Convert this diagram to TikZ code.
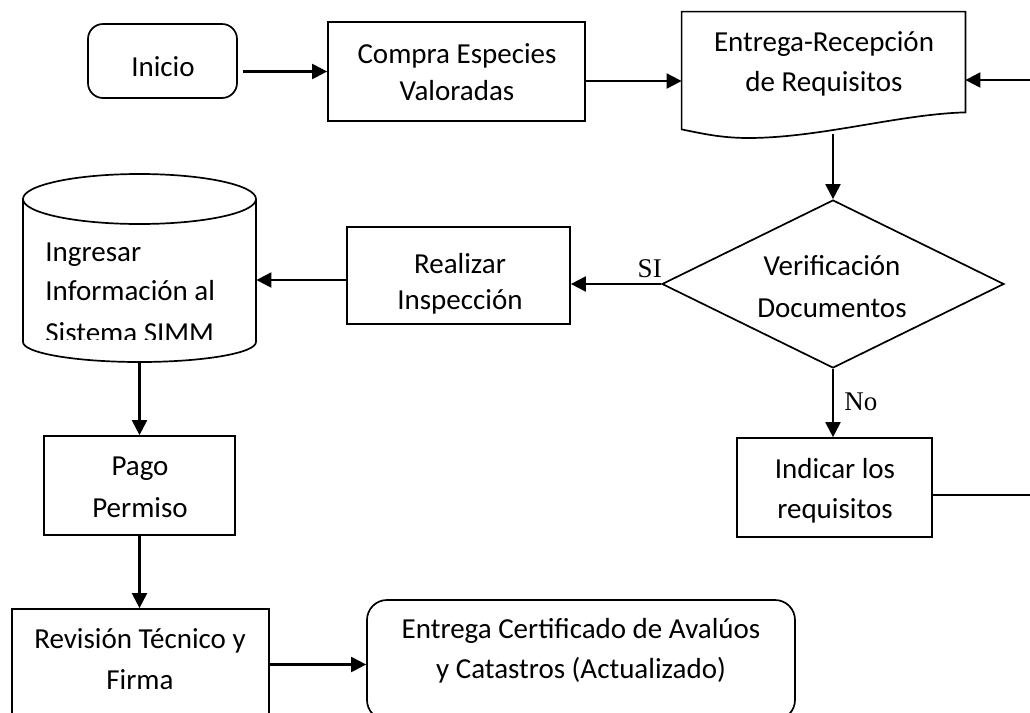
\documentclass[tikz,border=0pt]{standalone}
\usepackage{fontspec}
\setmainfont{Carlito}
\newfontfamily\labelfont{Liberation Serif}
\usetikzlibrary{arrows.meta,shapes.geometric,calc}

\tikzset{
  boxline/.style={draw=black, line width=0.85pt},
  procbox/.style={boxline, rectangle, inner sep=0pt},
  termbox/.style={boxline, rectangle, rounded corners=#1, inner sep=0pt},
  hidden/.style={rectangle, inner sep=0pt},
  decision/.style={boxline, diamond, inner sep=0pt},
  txt/.style={inner sep=0pt, anchor=base, align=center,
    font=\fontsize{14.5}{20}\selectfont},
  txtl/.style={inner sep=0pt, anchor=base west,
    font=\fontsize{14.5}{20}\selectfont},
  branch/.style={inner sep=0pt, font=\labelfont\fontsize{13.5}{16}\selectfont},
  arr/.style={draw=black, line width=1.05pt, -{Triangle[length=7.5pt,width=7.5pt]}},
  link/.style={draw=black, line width=0.85pt},
}

\begin{document}
\begin{tikzpicture}[x=0.5pt,y=-0.5pt]
\fill[white] (0,0) rectangle (1030,713);
\useasboundingbox (0,0) rectangle (1030,713);

% ---------- shapes ----------
\node[termbox=7.5pt, minimum width=74.5pt, minimum height=37pt] (inicio) at (162.5,61) {};
\node[procbox, minimum width=128.5pt, minimum height=49.5pt] (compra) at (456.5,71.5) {};

% document shape with wavy bottom edge
\node[hidden, minimum width=141.5pt, minimum height=50pt] (ent) at (823.5,62) {};
\draw[boxline] (ent.north west) -- (ent.north east) -- (ent.south east)
  .. controls (900,114) and (820,138) .. (748,138)
  .. controls (720,138) and (700,133) .. ($(ent.south west)+(0,17)$) -- cycle;

\node[decision, minimum width=171pt, minimum height=84pt] (dia) at (833,284) {};
\node[procbox, minimum width=111.5pt, minimum height=48.5pt] (real) at (458.5,275.5) {};

% database cylinder
\node[hidden, minimum width=116.5pt, minimum height=94.5pt] (cyl) at (139.5,267.5) {};
\draw[boxline] (139.5,199) ellipse [x radius=58.25pt, y radius=12.5pt];
\draw[boxline] (23,199) -- (23,342)
  .. controls (23,353) and (75.2,362) .. (139.5,362)
  .. controls (203.8,362) and (256,353) .. (256,342) -- (256,199);

\node[procbox, minimum width=97.5pt, minimum height=49.5pt] (ind) at (834.5,487.5) {};
\node[procbox, minimum width=95.5pt, minimum height=49.5pt] (pago) at (139.5,485.5) {};
\node[procbox, minimum width=128.5pt, minimum height=55.5pt] (rev) at (140.5,664.5) {};
\node[termbox=10pt, minimum width=214pt, minimum height=60pt] (cert) at (581,660) {};

% ---------- texts (anchored at the baseline of the last line) ----------
\node[txt] (inicioT) at (163,76) {Inicio};
\node[txt, font=\fontsize{14.5}{18.5}\selectfont] (compraT) at (457,100) {Compra Especies\\Valoradas};
\node[txt] (entT) at (824,91) {Entrega-Recepción\\de Requisitos};
\node[txt, font=\fontsize{14.5}{18}\selectfont] (realT) at (460,309) {Realizar\\Inspección};
\node[txt, font=\fontsize{14.5}{21}\selectfont] (diaT) at (832,317) {Verificación\\Documentos};
\node[txt] (indT) at (835,518) {Indicar los\\requisitos};
\node[txt, font=\fontsize{14.5}{21}\selectfont] (pagoT) at (140,517) {Pago\\Permiso};
\node[txt, font=\fontsize{14.5}{20.5}\selectfont] (revT) at (140,689) {Revisión Técnico y\\Firma};
\node[txt] (certT) at (581,678) {Entrega Certificado de Avalúos\\y Catastros (Actualizado)};

\node[txtl] (cylT1) at (45,261) {Ingresar};
\node[txtl] (cylT2) at (45,300) {Información al};
\begin{scope}
  \clip (0,0) rectangle (1030,339);
  \node[txtl] (cylT3) at (45,342) {Sistema SIMM};
\end{scope}

% ---------- connectors ----------
\draw[arr] ($(inicio.east |- compra.west)+(5,0)$) -- (compra.west);

\coordinate (entIn) at ($(ent.west)+(0,19)$);
\draw[arr] (compra.east |- entIn) -- (entIn);

\coordinate (retTop) at (1030,80);
\draw[arr] (retTop) -- (retTop -| ent.east);

\coordinate (entOut) at (833,134);
\draw[arr] (entOut) -- (dia.north);

\draw[arr] (dia.west) -- (dia.west -| real.east);
\node[branch, anchor=base east] (si) at ($(dia.west)+(1,-7)$) {SI};

\draw[arr] (dia.south) -- (dia.south |- ind.north);
\node[branch, anchor=base west] (no) at ($(dia.south)+(11,42)$) {No};

\coordinate (retBot) at (1030,495);
\draw[link] (ind.east |- retBot) -- (retBot);

\coordinate (realOut) at ($(real.west)+(0,4.5)$);
\draw[arr] (realOut) -- (realOut -| cyl.east);

\draw[arr] (cyl.south) -- (pago.north);
\draw[arr] (pago.south) -- (pago.south |- rev.north);
\draw[arr] (rev.east) -- (rev.east -| cert.west);
\end{tikzpicture}
\end{document}
